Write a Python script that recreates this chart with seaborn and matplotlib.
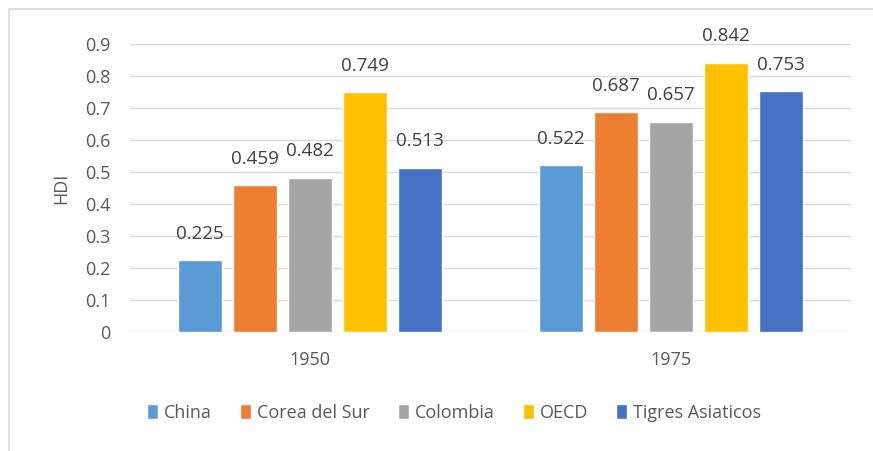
import matplotlib
matplotlib.use("Agg")
import matplotlib.pyplot as plt
import seaborn as sns
import pandas as pd
from matplotlib.patches import Rectangle
from matplotlib.ticker import FuncFormatter, MultipleLocator

years = ["1950", "1975"]
series = ["China", "Corea del Sur", "Colombia", "OECD", "Tigres Asiaticos"]
china = [0.225, 0.522]
corea = [0.459, 0.687]
colombia = [0.482, 0.657]
oecd = [0.749, 0.842]
tigres = [0.513, 0.753]
colors = ["#5B9BD5", "#ED7D31", "#A5A5A5", "#FFC000", "#4472C4"]

rows = []
for name, vals in zip(series, [china, corea, colombia, oecd, tigres]):
    for y, v in zip(years, vals):
        rows.append({"Year": y, "Series": name, "HDI": v})
df = pd.DataFrame(rows)

sns.set_style("white")
plt.rcParams["font.family"] = ["Open Sans", "DejaVu Sans"]

fig = plt.figure(figsize=(8.73, 4.51), dpi=100)
W, H = 873, 451
ax = fig.add_axes([130 / W, 1 - 332 / H, (851 - 130) / W, (332 - 44) / H])

sns.barplot(data=df, x="Year", y="HDI", hue="Series", hue_order=series,
            order=years, palette=colors, width=0.763, gap=0.2,
            saturation=1, ax=ax, legend=True, errorbar=None)

ax.set_ylim(0, 0.9)
ax.set_xlim(-0.5, 1.5)
ax.yaxis.set_major_locator(MultipleLocator(0.1))
ax.yaxis.set_major_formatter(FuncFormatter(lambda v, p: f"{round(v, 2):g}"))
ax.grid(axis="y", color="#D9D9D9", linewidth=1)
ax.set_axisbelow(True)
for s in ax.spines.values():
    s.set_visible(False)
ax.tick_params(axis="both", length=0, labelsize=13, colors="#595959")
ax.tick_params(axis="y", pad=14)
ax.tick_params(axis="x", pad=14)
ax.set_xlabel("")
ax.set_ylabel("HDI", fontsize=13, color="#595959", labelpad=11)

for c in ax.containers:
    ax.bar_label(c, labels=[f"{v:.3f}" for v in c.datavalues], padding=12.5,
                 fontsize=13.5, color="#404040")

handles, labels = ax.get_legend_handles_labels()
ax.get_legend().remove()
fig.legend(handles, labels, ncol=5, loc="center", bbox_to_anchor=(454 / W, 1 - 413 / H),
           frameon=False, fontsize=13, labelcolor="#595959",
           handlelength=0.62, handleheight=0.9, handletextpad=0.33,
           columnspacing=1.55, borderpad=0, borderaxespad=0)

fig.patches.append(Rectangle((9 / W, -0.1), 1.2, 1 - 9 / H + 0.1, transform=fig.transFigure,
                             fill=False, edgecolor="#D9D9D9", linewidth=1.2))

fig.savefig("out.png", dpi=100)
